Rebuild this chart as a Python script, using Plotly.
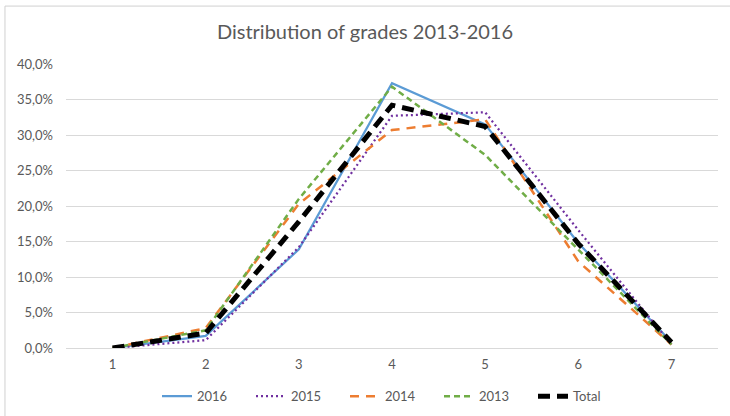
import plotly.graph_objects as go

grades = ["1", "2", "3", "4", "5", "6", "7"]
y2016 = [0.000, 0.017, 0.139, 0.373, 0.315, 0.148, 0.008]
y2015 = [0.000, 0.011, 0.142, 0.327, 0.332, 0.166, 0.005]
y2014 = [0.000, 0.028, 0.203, 0.307, 0.322, 0.122, 0.005]
y2013 = [0.000, 0.025, 0.210, 0.368, 0.272, 0.138, 0.005]
ytotal = [0.000, 0.021, 0.178, 0.342, 0.312, 0.147, 0.008]

series = [
    ("2016", y2016, "#5B9BD5", "solid", 2.25),
    ("2015", y2015, "#7030A0", "2px,3px", 2.25),
    ("2014", y2014, "#ED7D31", "9px,7px", 2.5),
    ("2013", y2013, "#70AD47", "6px,4px", 2.5),
    ("Total", ytotal, "#000000", "12px,7px", 5),
]

fig = go.Figure()
for name, ys, color, dash, w in series:
    fig.add_trace(go.Scatter(
        x=grades, y=ys, name=name, mode="lines",
        line=dict(color=color, dash=dash, width=w),
    ))

grey = "#595959"
fig.update_layout(
    width=730, height=416,
    margin=dict(l=66, r=12, t=64, b=68, autoexpand=False),
    paper_bgcolor="white", plot_bgcolor="white",
    separators=",.",
    font=dict(family="Lato, 'Open Sans', sans-serif", color=grey, size=13),
    title=dict(text="Distribution of grades 2013-2016", x=0.5, xanchor="center",
               y=0.923, yanchor="middle",
               font=dict(size=20, color=grey, family="Lato, 'Open Sans', sans-serif")),
    xaxis=dict(type="category", range=[-0.5, 6.5], showgrid=False, ticks="",
               showline=False, ticklabelstandoff=7, tickfont=dict(size=13, color=grey)),
    yaxis=dict(range=[0, 0.4], dtick=0.05, tickformat=".1%", gridcolor="#D9D9D9",
               gridwidth=1, zeroline=True, zerolinecolor="#D9D9D9", zerolinewidth=1,
               ticks="", ticklabelstandoff=12, tickfont=dict(size=13, color=grey)),
    legend=dict(orientation="h", x=0.5, xanchor="center", y=-0.17, yanchor="middle",
                font=dict(size=13, color=grey), itemwidth=30, traceorder="normal",
                entrywidth=49, entrywidthmode="pixels"),
    showlegend=True,
    shapes=[dict(type="rect", xref="paper", yref="paper",
                 x0=-0.0936, x1=1.03, y0=-0.26, y1=1.204,
                 line=dict(color="#D0D0D0", width=1), layer="above")],
)

fig.write_html("out.html", config={"displayModeBar": False},
               post_script="document.body.style.margin='0';document.body.style.overflow='hidden';")
